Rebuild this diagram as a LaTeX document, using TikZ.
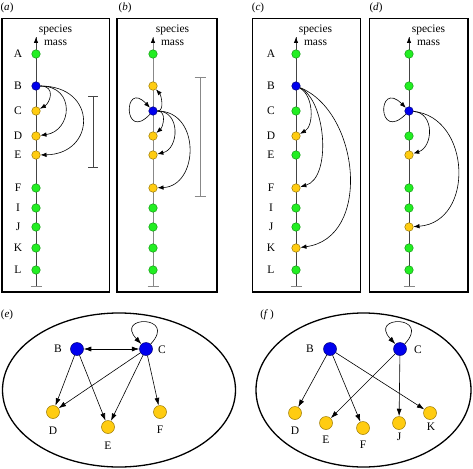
\documentclass[tikz,border=0pt]{standalone}
\usepackage{fontspec}
\setmainfont{Liberation Serif}
\usetikzlibrary{arrows.meta}
\definecolor{gfill}{HTML}{22EE22}
\definecolor{gline}{HTML}{119911}
\definecolor{bfill}{HTML}{0000EE}
\definecolor{bline}{HTML}{000077}
\definecolor{yfill}{HTML}{FFCC11}
\definecolor{yline}{HTML}{997700}
\definecolor{axgray}{HTML}{444444}
\definecolor{ltgray}{HTML}{888888}
\tikzset{
  panel/.style={line width=1.3pt},
  gn/.style={circle,fill=gfill,draw=gline,line width=0.5pt,inner sep=0pt,minimum size=8.5pt},
  bn/.style={circle,fill=bfill,draw=bline,line width=0.5pt,inner sep=0pt,minimum size=8.5pt},
  yn/.style={circle,fill=yfill,draw=yline,line width=0.5pt,inner sep=0pt,minimum size=8.5pt},
  bgn/.style={circle,fill=bfill,draw=bline,line width=0.5pt,inner sep=0pt,minimum size=13pt},
  ygn/.style={circle,fill=yfill,draw=yline,line width=0.5pt,inner sep=0pt,minimum size=13pt},
  lab/.style={font=\fontsize{11.5}{12}\selectfont,inner sep=0pt},
  plab/.style={font=\fontsize{11}{12}\selectfont,inner sep=0pt},
  arc/.style={line width=0.6pt,-{Latex[length=6pt,width=4.5pt]}},
  garc/.style={line width=0.6pt,-{Latex[length=7.5pt,width=5pt]}},
  axis/.style={line width=0.9pt,draw=axgray},
  axisl/.style={line width=0.9pt,draw=ltgray},
  bar/.style={line width=0.9pt,draw=axgray},
  barl/.style={line width=0.9pt,draw=ltgray},
}
\begin{document}
\begin{tikzpicture}[x=1pt,y=1pt]
\useasboundingbox (0,0) rectangle (473,-468);
% panel frames
\draw[panel] (2,-18.5) rectangle (109.5,-292);
\draw[panel] (117,-18.5) rectangle (217,-292);
\draw[panel] (252.5,-18.5) rectangle (360.5,-292);
\draw[panel] (369.5,-18.5) rectangle (468,-292);
\draw[panel] (119,-390) ellipse [x radius=116.5,y radius=77];
\draw[panel] (363.5,-390) ellipse [x radius=107.5,y radius=77];
% panel labels
\node[plab] (la) at (7,-8) {(\textit{a})};
\node[plab] (lb) at (125,-8) {(\textit{b})};
\node[plab] (lc) at (258,-8) {(\textit{c})};
\node[plab] (ld) at (376,-8) {(\textit{d})};
\node[plab] (le) at (7,-315) {(\textit{e})};
\node[plab] (lf) at (267,-315) {(\textit{f}\,)};
% axes
\foreach \p/\x/\st in {a/36/axis, b/153/axisl, c/296/axis, d/409/axis}{
  \coordinate (\p top) at (\x,-37);
  \coordinate (\p bot) at (\x,-286);
  \coordinate (\p tl) at (\x-5.5,-286);
  \coordinate (\p tr) at (\x+5.5,-286);
  \draw[\st] (\p bot) -- (\p top);
  \draw[line width=0.9pt,draw=black,-{Latex[length=6pt,width=4.6pt]}] ([yshift=-4pt]\p top) -- (\p top);
  \draw[axisl] (\p tl) -- (\p tr);
  \node[lab] (\p sp) at (\x+19.5,-30) {species};
  \node[lab] (\p ms) at (\x+19.5,-43) {mass};
}
% scale bars
\coordinate (sa1) at (93,-96); \coordinate (sa2) at (93,-167);
\coordinate (sa1l) at (88,-96); \coordinate (sa1r) at (98,-96);
\coordinate (sa2l) at (88,-167); \coordinate (sa2r) at (98,-167);
\draw[bar] (sa1) -- (sa2); \draw[bar] (sa1l) -- (sa1r); \draw[bar] (sa2l) -- (sa2r);
\coordinate (sb1) at (200,-77); \coordinate (sb2) at (200,-196);
\coordinate (sb1l) at (194.5,-77); \coordinate (sb1r) at (205.5,-77);
\coordinate (sb2l) at (194.5,-196); \coordinate (sb2r) at (205.5,-196);
\draw[barl] (sb1) -- (sb2); \draw[barl] (sb1l) -- (sb1r); \draw[barl] (sb2l) -- (sb2r);
% nodes (a)
\foreach \n/\y/\s in {A/54/gn,B/86/bn,C/111/yn,D/136/yn,E/155/yn,F/188/gn,I/208/gn,J/227/gn,K/248/gn,L/270/gn}{
  \node[\s] (a\n) at (36,-\y) {};
  \node[lab] (ta\n) at (18,-\y) {\n};
}
% nodes (b)
\foreach \n/\y/\s in {A/54/gn,B/86/yn,C/111/bn,D/136/yn,E/155/yn,F/188/yn,I/208/gn,J/227/gn,K/248/gn,L/270/gn}{
  \node[\s] (b\n) at (153,-\y) {};
}
% nodes (c)
\foreach \n/\y/\s in {A/54/gn,B/86/bn,C/111/gn,D/136/yn,E/155/gn,F/188/yn,I/208/gn,J/227/gn,K/248/yn,L/270/gn}{
  \node[\s] (c\n) at (296,-\y) {};
  \node[lab] (tc\n) at (271,-\y) {\n};
}
% nodes (d)
\foreach \n/\y/\s in {A/54/gn,B/86/gn,C/111/bn,D/136/gn,E/155/yn,F/188/gn,I/208/gn,J/227/yn,K/248/gn,L/270/gn}{
  \node[\s] (d\n) at (409,-\y) {};
}
% arcs (a)
\draw[arc] (aB) .. controls +(20,0) and +(14,8) .. (aC);
\draw[arc] (aB) .. controls +(40,0) and +(36,5) .. (aD);
\draw[arc] (aB) .. controls +(62,0) and +(60,1) .. (aE);
% arcs (b)
\draw[arc] (bC) .. controls +(12,0) and +(8,-9) .. (bB);
\draw[arc] (bC) .. controls +(-30,-32) and +(-30,32) .. (bC);
\draw[arc] (bC) .. controls +(14,0) and +(10,9) .. (bD);
\draw[arc] (bC) .. controls +(28,0) and +(26,6) .. (bE);
\draw[arc] (bC) .. controls +(48,0) and +(46,2) .. (bF);
% arcs (c)
\draw[arc] (cB) .. controls +(18,-10) and +(18,10) .. (cD);
\draw[arc] (cB) .. controls +(30,-14) and +(36,10) .. (cF);
\draw[arc] (cB) .. controls +(64,-26) and +(76,10) .. (cK);
% arcs (d)
\draw[arc] (dC) .. controls +(-32,-32) and +(-32,32) .. (dC);
\draw[arc] (dC) .. controls +(26,-2) and +(24,8) .. (dE);
\draw[arc] (dC) .. controls +(62,-6) and +(66,5) .. (dJ);
% graph (e)
\node[bgn] (eB) at (77,-349) {};
\node[bgn] (eC) at (146,-349) {};
\node[ygn] (eD) at (53,-412) {};
\node[ygn] (eE) at (108,-427) {};
\node[ygn] (eF) at (160,-412) {};
\node[lab] (teB) at (58,-349) {B};
\node[lab] (teC) at (162,-350) {C};
\node[lab] (teD) at (53,-431) {D};
\node[lab] (teE) at (108,-446) {E};
\node[lab] (teF) at (160,-430) {F};
\draw[line width=0.6pt,{Latex[length=7.5pt,width=5pt]}-{Latex[length=7.5pt,width=5pt]}] (eB) -- (eC);
\draw[garc] (eB) -- (eD);
\draw[garc] (eB) -- (eE);
\draw[garc] (eC) -- (eD);
\draw[garc] (eC) -- (eE);
\draw[garc] (eC) -- (eF);
\draw[garc] (eC) .. controls +(32,34) and +(-32,34) .. (eC);
% graph (f)
\node[bgn] (fB) at (330,-349) {};
\node[bgn] (fC) at (400,-349) {};
\node[ygn] (fD) at (295,-413) {};
\node[ygn] (fE) at (326,-423) {};
\node[ygn] (fF) at (363,-428) {};
\node[ygn] (fJ) at (399,-423) {};
\node[ygn] (fK) at (430,-413) {};
\node[lab] (tfB) at (310,-349) {B};
\node[lab] (tfC) at (418,-350) {C};
\node[lab] (tfD) at (295,-431) {D};
\node[lab] (tfE) at (326,-440) {E};
\node[lab] (tfF) at (363,-445) {F};
\node[lab] (tfJ) at (399,-437) {J};
\node[lab] (tfK) at (431,-427) {K};
\draw[garc] (fB) -- (fD);
\draw[garc] (fB) -- (fF);
\draw[garc] (fB) -- (fK);
\draw[garc] (fC) -- (fE);
\draw[garc] (fC) -- (fJ);
\draw[garc] (fC) .. controls +(32,34) and +(-32,34) .. (fC);
\end{tikzpicture}
\end{document}
